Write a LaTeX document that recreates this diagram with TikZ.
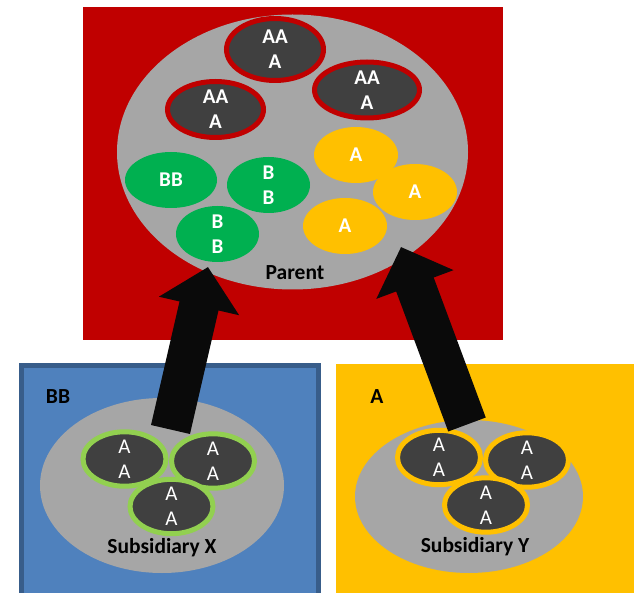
\documentclass[tikz,border=0pt]{standalone}
\usepackage{fontspec}
\setmainfont{Carlito}
\usepackage{tikz}
\usetikzlibrary{shapes.geometric, arrows.meta}
\definecolor{parentred}{HTML}{C00000}
\definecolor{poolgray}{HTML}{A6A6A6}
\definecolor{holdgray}{HTML}{404040}
\definecolor{bgreen}{HTML}{00B050}
\definecolor{ayellow}{HTML}{FFC000}
\definecolor{xblue}{HTML}{4F81BD}
\definecolor{xblueline}{HTML}{385D8A}
\definecolor{xgreenline}{HTML}{92D050}
\definecolor{arrowblack}{HTML}{0A0A0A}
\tikzstyle{pool} = [ellipse, fill=poolgray, inner sep=0pt]
\tikzstyle{blob} = [ellipse, inner sep=0pt, align=center, text=white,
	font=\fontsize{21}{25}\selectfont\bfseries]
\tikzstyle{held} = [blob, fill=holdgray, line width=5pt,
	minimum width=83pt, minimum height=51pt,
	font=\fontsize{21}{25}\selectfont]
\tikzstyle{label} = [font=\fontsize{21.5}{25}\selectfont\bfseries, inner sep=0pt]
\tikzstyle{arrow} = [-{Triangle[width=80pt,length=40pt]}, line width=40pt, arrowblack]
\begin{document}
\begin{tikzpicture}[x=1pt, y=-1pt]
	\useasboundingbox (0,0) rectangle (634,593);
	% parent
	\fill[parentred] (83,7) rectangle (503,340);
	\node (parent) [pool, minimum width=351pt, minimum height=275pt] at (292.5,152) {};
	\node (aa1) [blob, fill=holdgray, draw=parentred, line width=5pt,
		minimum width=97pt, minimum height=62pt] at (275,49.5) {AA\\A};
	\node (aa2) [blob, fill=holdgray, draw=parentred, line width=5pt,
		minimum width=105pt, minimum height=56pt] at (367,90) {AA\\A};
	\node (aa3) [blob, fill=holdgray, draw=parentred, line width=5pt,
		minimum width=96pt, minimum height=56pt] at (215.5,109.5) {AA\\A};
	\node (bb1) [blob, fill=bgreen, minimum width=92pt, minimum height=56pt] at (171,180) {BB};
	\node (bb2) [blob, fill=bgreen, minimum width=83pt, minimum height=56pt] at (268.5,185) {B\\B};
	\node (bb3) [blob, fill=bgreen, minimum width=83pt, minimum height=56pt] at (217.5,234) {B\\B};
	\node (a1) [blob, fill=ayellow, minimum width=84pt, minimum height=56pt] at (356,155) {A};
	\node (a2) [blob, fill=ayellow, minimum width=84pt, minimum height=56pt] at (415,192) {A};
	\node (a3) [blob, fill=ayellow, minimum width=84pt, minimum height=56pt] at (345,226) {A};
	\node (parentname) [label] at (295,273) {Parent};
	
	% subsidiary x
	\draw[xblueline, fill=xblue, line width=5pt] (21.5,365.5) rectangle (318.5,600);
	\node (xrating) [label] at (58,397) {BB};
	\node (subx) [pool, minimum width=244pt, minimum height=175pt] at (162,485.5) {};
	\node (xa) [held, draw=xgreenline] at (124.5,459) {A\\A};
	\node (xb) [held, draw=xgreenline] at (213,461) {A\\A};
	\node (xc) [held, draw=xgreenline] at (171.5,506.5) {A\\A};
	\node (subxname) [label] at (162,548) {Subsidiary X};
	
	% subsidiary y
	\fill[ayellow] (336,364) rectangle (640,600);
	\node (yrating) [label] at (377,397) {A};
	\node (suby) [pool, minimum width=228pt, minimum height=153pt] at (469,496.5) {};
	\node (ya) [held, draw=ayellow] at (439,457.5) {A\\A};
	\node (yb) [held, draw=ayellow] at (527,460) {A\\A};
	\node (yc) [held, draw=ayellow] at (486,505) {A\\A};
	\node (subyname) [label] at (475,547) {Subsidiary Y};
	
	% arrows up to the parent
	\coordinate (xout) at (170.5,429.5);
	\coordinate (xin) at (208,267);
	\coordinate (yout) at (467,424.5);
	\coordinate (yin) at (401,247);
	\draw [arrow] (xout) -- (xin);
	\draw [arrow] (yout) -- (yin);
\end{tikzpicture}
\end{document}
